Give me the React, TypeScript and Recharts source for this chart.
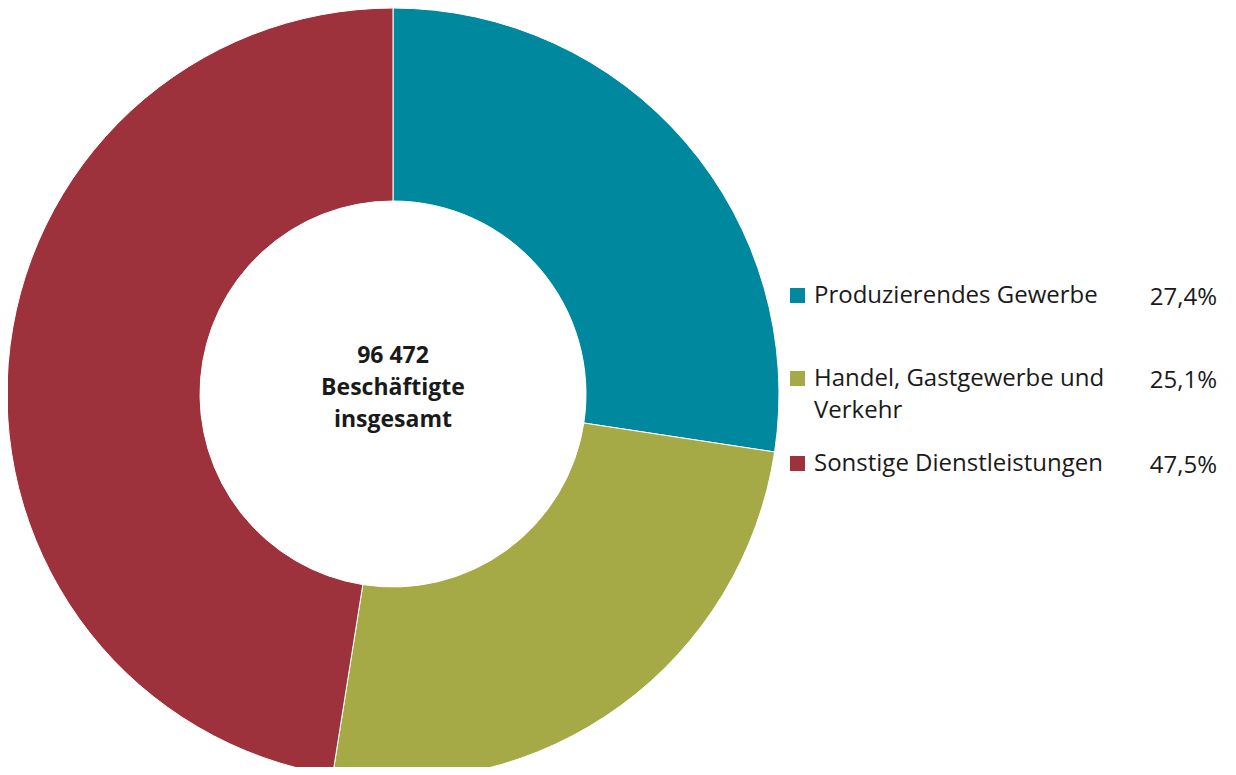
import React from "react";
import { PieChart, Pie, Cell } from "recharts";

const categories = ["Produzierendes Gewerbe", "Handel, Gastgewerbe und Verkehr", "Sonstige Dienstleistungen"];
const shares = [27.4, 25.1, 47.5];
const shareLabels = ["27,4%", "25,1%", "47,5%"];
const colors = ["#00889E", "#A6AA46", "#9E323C"];
const centerLines = ["96 472", "Beschäftigte", "insgesamt"];

const data = categories.map((name, i) => ({ name, value: shares[i] }));

const FONT = "'Open Sans', 'Noto Sans', sans-serif";

const rowTops = [278, 361, 446];

const LegendBlock = () => (
  <div style={{ position: "absolute", left: 790, top: 0, width: 440, fontFamily: FONT, fontSize: 24, color: "#1a1a1a" }}>
    {categories.map((c, i) => (
      <div key={c} style={{ position: "absolute", left: 0, top: rowTops[i], width: 430 }}>
        <div style={{ position: "absolute", left: 0, top: 10, width: 15, height: 15, background: colors[i] }} />
        <div style={{ position: "absolute", left: 24, top: 0, width: 310, lineHeight: "32px" }}>{c}</div>
        <div style={{ position: "absolute", right: 3, top: 2, lineHeight: "32px" }}>{shareLabels[i]}</div>
      </div>
    ))}
  </div>
);

const CenterBlock = () => (
  <div
    style={{
      position: "absolute",
      left: 293,
      top: 338,
      width: 200,
      textAlign: "center",
      fontFamily: FONT,
      fontWeight: 700,
      fontSize: 23,
      lineHeight: "32px",
      color: "#1a1a1a",
    }}
  >
    {centerLines.map((t) => (
      <div key={t}>{t}</div>
    ))}
  </div>
);

export default function App() {
  return (
    <div style={{ margin: -8, width: 1236, height: 775, background: "#fff", position: "relative", overflow: "hidden" }}>
      <PieChart width={1236} height={775} margin={{ top: 0, right: 0, bottom: 0, left: 0 }}>
        <Pie
          data={data}
          dataKey="value"
          nameKey="name"
          cx={393}
          cy={394}
          outerRadius={386}
          innerRadius={193}
          startAngle={90}
          endAngle={-270}
          stroke="#ffffff"
          strokeWidth={1}
          isAnimationActive={false}
        >
          {data.map((d, i) => (
            <Cell key={d.name} fill={colors[i]} />
          ))}
        </Pie>
      </PieChart>
      <CenterBlock />
      <LegendBlock />
    </div>
  );
}
